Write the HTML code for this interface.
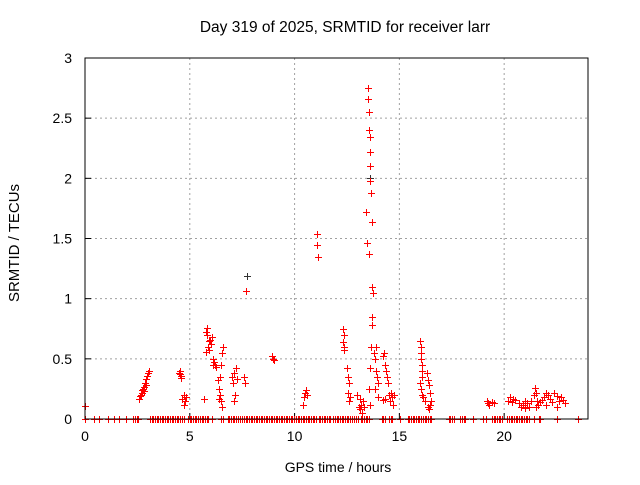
<!DOCTYPE html>
<html><head><meta charset="utf-8"><style>
body{margin:0;background:#fff}
svg text{font-family:"Liberation Sans",sans-serif;font-size:14px;fill:#000}
</style></head><body>
<svg id="chart" width="640" height="480" viewBox="0 0 640 480">
<rect width="640" height="480" fill="#fff"/>
<text x="345" y="32" text-anchor="middle" style="font-size:15.5px">Day 319 of 2025, SRMTID for receiver larr</text>
<text x="338" y="472" text-anchor="middle">GPS time / hours</text>
<text transform="translate(19,243) rotate(-90)" text-anchor="middle" style="font-size:15px">SRMTID / TECUs</text>
<g id="grid"></g><g id="ticks"></g><g id="marks"></g>
<rect x="85" y="58" width="503" height="361" fill="none" stroke="#000" stroke-width="1"/>
</svg>
<script>
const xTicks=[0,5,10,15,20];
const yTicks=[0,0.5,1,1.5,2,2.5,3];
const yTickLabels=["0","0.5","1","1.5","2","2.5","3"];
const zeroRuns=[[0.0,0.0],[0.43,0.43],[0.67,0.67],[1.1,1.1],[1.4,1.4],[1.6,1.6],[1.95,1.95],[2.3,2.6],[3.1,4.7],[4.9,4.9],[5.0,5.9],[6.05,6.1],[6.5,6.6],[6.8,7.2],[7.3,7.4],[7.5,11.05],[11.15,11.75],[11.85,12.75],[12.85,13.05],[13.15,13.55],[14.15,14.35],[14.5,14.7],[15.05,15.1],[15.4,16.55],[17.35,17.6],[17.9,18.2],[18.5,18.5],[19.0,19.0],[19.15,19.15],[19.4,19.4],[19.5,19.9],[20.15,21.2],[21.4,21.4],[21.65,21.8],[22.5,22.55],[23.5,23.55]];
const redX=[0,2.6,2.65,2.7,2.75,2.8,2.85,2.9,2.95,3.0,3.05,2.62,2.7,2.8,2.9,4.5,4.55,4.6,4.52,4.58,4.65,4.7,4.75,4.8,4.72,5.7,5.75,5.8,5.82,5.85,5.9,5.95,6.0,6.05,5.78,5.9,6.1,6.15,6.2,6.25,6.1,6.35,6.4,6.45,6.5,6.55,6.6,6.5,6.45,6.55,6.4,7.0,7.05,7.1,7.15,7.2,7.25,7.1,7.6,7.65,7.7,8.9,8.95,9.0,10.4,10.45,10.5,10.55,10.6,11.05,11.08,11.1,12.3,12.35,12.32,12.38,12.35,12.5,12.55,12.6,12.55,12.62,12.65,13.0,13.05,13.1,13.15,13.2,13.25,13.3,13.1,13.4,13.45,13.5,13.52,13.55,13.58,13.6,13.62,13.65,13.67,13.55,13.6,13.55,13.7,13.72,13.7,13.68,13.65,13.6,13.55,13.6,13.8,13.85,13.9,13.95,14.0,13.9,13.85,14.0,14.2,14.25,14.3,14.35,14.4,14.45,14.2,14.3,14.5,14.55,14.6,14.65,14.7,14.75,16.0,16.02,16.05,16.05,16.08,16.1,16.1,16.0,16.1,16.15,16.2,16.05,16.3,16.35,16.4,16.45,16.5,16.35,16.4,16.45,19.2,19.25,19.3,19.4,19.5,20.2,20.3,20.35,20.4,20.5,20.7,20.8,20.9,21.0,21.1,21.2,21.3,21.0,21.4,21.45,21.5,21.55,21.6,21.5,21.7,21.8,21.9,22.0,22.1,22.2,22.3,22.4,22.5,22.6,22.7,22.8,22.9,22.0,22.5];
const redY=[0.11,0.17,0.2,0.22,0.25,0.27,0.3,0.33,0.36,0.38,0.4,0.19,0.24,0.23,0.28,0.38,0.37,0.36,0.4,0.34,0.17,0.2,0.15,0.18,0.12,0.17,0.72,0.76,0.7,0.6,0.65,0.66,0.62,0.68,0.56,0.57,0.5,0.47,0.45,0.43,0.45,0.32,0.25,0.2,0.15,0.55,0.6,0.45,0.35,0.1,0.17,0.35,0.3,0.38,0.2,0.42,0.33,0.15,0.35,0.3,1.06,0.52,0.5,0.49,0.12,0.18,0.22,0.24,0.2,1.54,1.45,1.35,0.75,0.7,0.64,0.57,0.6,0.42,0.35,0.3,0.22,0.15,0.18,0.2,0.1,0.08,0.12,0.05,0.15,0.1,0.17,1.72,1.46,2.75,2.66,2.4,2.22,2.1,1.98,1.88,1.64,1.37,2.34,2.55,1.1,1.05,0.85,0.78,0.6,0.42,0.25,0.12,0.55,0.5,0.4,0.35,0.3,0.6,0.25,0.18,0.52,0.55,0.45,0.4,0.35,0.3,0.16,0.17,0.2,0.15,0.22,0.18,0.12,0.2,0.65,0.6,0.55,0.5,0.45,0.4,0.35,0.3,0.2,0.18,0.15,0.25,0.38,0.32,0.28,0.22,0.15,0.1,0.08,0.12,0.15,0.13,0.12,0.14,0.13,0.15,0.18,0.14,0.17,0.16,0.13,0.1,0.12,0.09,0.13,0.1,0.15,0.15,0.2,0.26,0.22,0.15,0.12,0.1,0.14,0.16,0.18,0.12,0.2,0.17,0.14,0.22,0.19,0.15,0.18,0.16,0.13,0.22,0.1];
const blackX=[7.72,13.62,13.68];
const blackY=[1.19,2.0,0.85];
const NS='http://www.w3.org/2000/svg';
const X0=85,X1=588,Y0=419,Y1=58,XMAX=24,YMAX=3;
function sx(v){return X0+v/XMAX*(X1-X0);}
function sy(v){return Y0-v/YMAX*(Y0-Y1);}
function mk(tag,attrs,parent){const e=document.createElementNS(NS,tag);for(const k in attrs)e.setAttribute(k,attrs[k]);parent.appendChild(e);return e;}
const grid=document.getElementById('grid'),ticks=document.getElementById('ticks'),marks=document.getElementById('marks');
xTicks.forEach(t=>{const x=sx(t);
 if(t>0){const g=mk('line',{x1:x,x2:x,y1:Y1,y2:Y0,stroke:'#a0a0a0','stroke-dasharray':'2,3'},grid);
 
 }
 const tl=mk('line',{x1:x,x2:x,y1:Y0,y2:Y0-6,stroke:'#000'},ticks);
 
 
 const tx=mk('text',{x:x,y:Y0+22,'text-anchor':'middle'},ticks);tx.textContent=String(t);
 
 
});
yTicks.forEach((t,i)=>{const y=sy(t);
 if(t>0&&t<YMAX){const g=mk('line',{x1:X0,x2:X1,y1:y,y2:y,stroke:'#a0a0a0','stroke-dasharray':'2,3'},grid);
 
 }
 const tl=mk('line',{x1:X0,x2:X0+6,y1:y,y2:y,stroke:'#000'},ticks);
 
 
 const tx=mk('text',{x:X0-13,y:y+5,'text-anchor':'end'},ticks);tx.textContent=yTickLabels[i];
 
 
});
function plus(v,w,col,name){const x=Math.round(sx(v))+0.5,y=Math.round(sy(w))+0.5;
 const p=mk('path',{d:`M${x-3.5},${y}H${x+3.5}M${x},${y-3.5}V${y+3.5}`,stroke:col,'stroke-width':1,fill:'none'},marks);
 
 }
zeroRuns.forEach(r=>{for(let v=r[0];v<=r[1]+1e-9;v+=0.08)plus(v,0,'#ff0000','zero-point');});
blackX.forEach((v,i)=>plus(v,blackY[i],'#333','black-point'));
redX.forEach((v,i)=>plus(v,redY[i],'#ff0000','srmtid-point'));
</script>
</body></html>
